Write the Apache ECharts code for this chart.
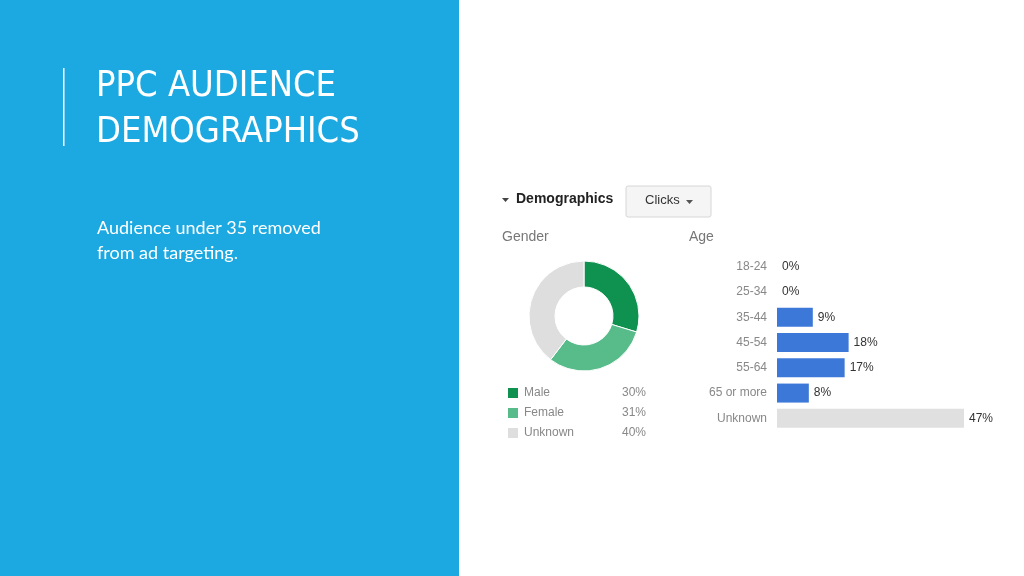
<!DOCTYPE html>
<html>
<head>
<meta charset="utf-8">
<script src="https://cdn.jsdelivr.net/npm/echarts@6/dist/echarts.min.js"></script>
<style>html,body{margin:0;padding:0;background:#fff}#main{width:1024px;height:576px}</style>
</head>
<body>
<div id="main"></div>
<script>
var genderNames = ['Male', 'Female', 'Unknown'];
var genderValues = [30, 31, 40];
var genderColors = ['#0f9150', '#57bb8a', '#dedede'];
var ageCats = ['18-24', '25-34', '35-44', '45-54', '55-64', '65 or more', 'Unknown'];
var ageValues = [0, 0, 9, 18, 17, 8, 47];

var myChart = echarts.init(document.getElementById('main'));
var font = 'Arial, "Liberation Sans", sans-serif';

var pieData = genderNames.map(function (n, i) {
  return { name: n, value: genderValues[i], itemStyle: { color: genderColors[i] } };
});
var barData = ageValues.map(function (v, i) {
  return { value: v, itemStyle: { color: i === ageValues.length - 1 ? '#e0e0e0' : '#3c78d8' } };
});

var option = {
  animation: false,
  graphic: [
    { type: 'rect', shape: { x: 0, y: 0, width: 459, height: 576 }, style: { fill: '#1ca9e1' } },
    { type: 'rect', shape: { x: 63, y: 68, width: 1.5, height: 78 }, style: { fill: '#ffffff' } },
    { type: 'text', left: 96, top: 64, style: { text: 'PPC AUDIENCE\nDEMOGRAPHICS', fill: '#fff', font: '36px "Liberation Sans Narrow", "DejaVu Sans Condensed", sans-serif', lineHeight: 46 } },
    { type: 'text', left: 97, top: 216, style: { text: 'Audience under 35 removed\nfrom ad targeting.', fill: '#fff', font: '18px Lato, "Noto Sans", sans-serif', lineHeight: 25 } },
    { type: 'polygon', shape: { points: [[502, 198], [509, 198], [505.5, 202]] }, style: { fill: '#444' } },
    { type: 'text', left: 516, top: 192, style: { text: 'Demographics', fill: '#222', font: 'bold 14px ' + font } },
    { type: 'rect', shape: { x: 626, y: 186, width: 85, height: 31, r: 2 }, style: { fill: '#f5f5f5', stroke: '#d6d6d6' } },
    { type: 'text', left: 645, top: 194, style: { text: 'Clicks', fill: '#333', font: '13px ' + font } },
    { type: 'polygon', shape: { points: [[686, 200], [693, 200], [689.5, 204]] }, style: { fill: '#555' } },
    { type: 'text', left: 502, top: 230, style: { text: 'Gender', fill: '#777', font: '14px ' + font } },
    { type: 'text', left: 689, top: 230, style: { text: 'Age', fill: '#777', font: '14px ' + font } }
  ],
  legend: {
    orient: 'vertical',
    left: 501, top: 381,
    itemWidth: 12, itemHeight: 12, itemGap: 6,
    icon: 'rect',
    data: genderNames,
    formatter: function (name) {
      return '{n|' + name + '}{v|' + genderValues[genderNames.indexOf(name)] + '%}';
    },
    textStyle: {
      rich: {
        n: { width: 98, color: '#888', fontSize: 12, fontFamily: font },
        v: { color: '#888', fontSize: 12, fontFamily: font }
      }
    }
  },
  grid: { left: 777, top: 254, width: 187, height: 177 },
  xAxis: { type: 'value', min: 0, max: 47, show: false },
  yAxis: {
    type: 'category', data: ageCats, inverse: true,
    axisLine: { show: false }, axisTick: { show: false },
    axisLabel: { color: '#888', fontSize: 12, fontFamily: font, margin: 10 }
  },
  series: [
    {
      type: 'pie', radius: [29, 55], center: [584, 316],
      startAngle: 90, clockwise: true,
      label: { show: false }, labelLine: { show: false },
      itemStyle: { borderColor: '#fff', borderWidth: 1 },
      data: pieData
    },
    {
      type: 'bar', data: barData, barWidth: 19,
      label: { show: true, position: 'right', formatter: '{c}%', color: '#333', fontSize: 12, fontFamily: font, distance: 5 }
    }
  ]
};
myChart.setOption(option);
</script>
</body>
</html>
